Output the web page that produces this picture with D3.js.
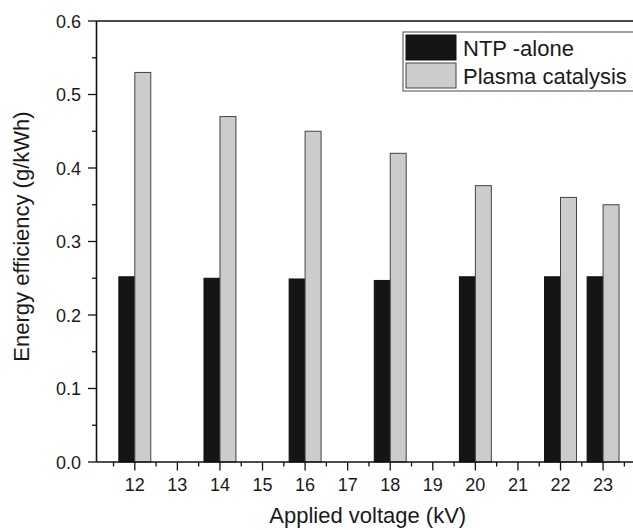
<!DOCTYPE html>
<html>
<head>
<meta charset="utf-8">
<script src="https://cdn.jsdelivr.net/npm/d3@7"></script>
<style>
  body { margin: 0; background: #fff; }
  text { font-family: "Liberation Sans", Arial, sans-serif; fill: #1a1a1a; }
</style>
</head>
<body>
<div id="chart"></div>
<script>
var voltages = [12, 14, 16, 18, 20, 22, 23];
var ntpAlone = [0.252, 0.250, 0.249, 0.247, 0.252, 0.252, 0.252];
var plasmaCatalysis = [0.530, 0.470, 0.450, 0.420, 0.376, 0.360, 0.350];
var seriesNames = ['NTP -alone', 'Plasma catalysis'];
var xTickValues = [12, 13, 14, 15, 16, 17, 18, 19, 20, 21, 22, 23];
var yTickValues = [0, 0.1, 0.2, 0.3, 0.4, 0.5, 0.6];

var W = 633, H = 530;
var margin = {top: 21, right: 0, bottom: 68, left: 96.5};
var barW = 0.375; // kV

var svg = d3.select('#chart').append('svg')
    .attr('width', W)
    .attr('height', H);

var x = d3.scaleLinear()
    .domain([11.1, 23.8])
    .range([margin.left, margin.left + 12.7 * 42.57]);

var y = d3.scaleLinear()
    .domain([0, 0.6])
    .range([H - margin.bottom, margin.top]);

var colors = ['#151515', '#cccccc'];
var strokes = ['#111', '#444'];

// bars
var groups = [ntpAlone, plasmaCatalysis];
groups.forEach(function(vals, s){
    svg.append('g').selectAll('rect')
        .data(vals)
        .enter()
        .append('rect')
        .attr('x', function(d, i){ return x(voltages[i] + (s === 0 ? -barW : 0)); })
        .attr('width', function(){ return x(barW) - x(0); })
        .attr('y', function(d){ return y(d); })
        .attr('height', function(d){ return y(0) - y(d); })
        .attr('fill', colors[s])
        .attr('stroke', strokes[s])
        .attr('stroke-width', 1);
});

// top frame line
svg.append('line')
    .attr('x1', margin.left).attr('x2', W)
    .attr('y1', y(0.6)).attr('y2', y(0.6))
    .attr('stroke', '#111').attr('stroke-width', 1.6);

// x axis
var xAxis = svg.append('g')
    .attr('transform', 'translate(0,' + y(0) + ')');
xAxis.append('line')
    .attr('x1', margin.left).attr('x2', W)
    .attr('stroke', '#111').attr('stroke-width', 1.6);
xAxis.selectAll('.minor')
    .data(xTickValues.map(function(d){ return d - 0.5; }).concat([23.5]))
    .enter().append('line')
    .attr('x1', function(d){ return x(d); }).attr('x2', function(d){ return x(d); })
    .attr('y1', 0).attr('y2', 4.5)
    .attr('stroke', '#111').attr('stroke-width', 1.3);
xAxis.selectAll('.major')
    .data(xTickValues)
    .enter().append('line')
    .attr('x1', function(d){ return x(d); }).attr('x2', function(d){ return x(d); })
    .attr('y1', 0).attr('y2', 8.5)
    .attr('stroke', '#111').attr('stroke-width', 1.3);
xAxis.selectAll('text')
    .data(xTickValues)
    .enter().append('text')
    .attr('x', function(d){ return x(d); })
    .attr('y', 28.5)
    .attr('text-anchor', 'middle')
    .attr('font-size', 18)
    .text(function(d){ return d; });

// y axis
var yAxis = svg.append('g')
    .attr('transform', 'translate(' + margin.left + ',0)');
yAxis.append('line')
    .attr('y1', y(0)).attr('y2', y(0.6))
    .attr('stroke', '#111').attr('stroke-width', 1.6);
yAxis.selectAll('.minor')
    .data(yTickValues.slice(0, -1).map(function(d){ return d + 0.05; }))
    .enter().append('line')
    .attr('y1', function(d){ return y(d); }).attr('y2', function(d){ return y(d); })
    .attr('x1', 0).attr('x2', -4.5)
    .attr('stroke', '#111').attr('stroke-width', 1.3);
yAxis.selectAll('.major')
    .data(yTickValues)
    .enter().append('line')
    .attr('y1', function(d){ return y(d); }).attr('y2', function(d){ return y(d); })
    .attr('x1', 0).attr('x2', -8.5)
    .attr('stroke', '#111').attr('stroke-width', 1.3);
yAxis.selectAll('text')
    .data(yTickValues)
    .enter().append('text')
    .attr('x', -15.5)
    .attr('y', function(d){ return y(d) + 6.5; })
    .attr('text-anchor', 'end')
    .attr('font-size', 18)
    .text(d3.format('.1f'));

// axis titles
svg.append('text')
    .attr('x', (margin.left + W) / 2 + 3)
    .attr('y', 523)
    .attr('text-anchor', 'middle')
    .attr('font-size', 22)
    .text('Applied voltage (kV)');
svg.append('text')
    .attr('transform', 'translate(29,' + (y(0.3) - 5) + ') rotate(-90)')
    .attr('text-anchor', 'middle')
    .attr('font-size', 22)
    .text('Energy efficiency (g/kWh)');

// legend
var legend = svg.append('g').attr('transform', 'translate(403,32)');
legend.append('rect')
    .attr('width', 260).attr('height', 59)
    .attr('fill', '#fff').attr('stroke', '#666').attr('stroke-width', 1.2);
var items = legend.selectAll('.item')
    .data(seriesNames)
    .enter().append('g')
    .attr('transform', function(d, i){ return 'translate(3,' + (3 + i * 28) + ')'; });
items.append('rect')
    .attr('width', 50).attr('height', 25)
    .attr('fill', function(d, i){ return colors[i]; })
    .attr('stroke', function(d, i){ return strokes[i]; });
items.append('text')
    .attr('x', 57).attr('y', 21)
    .attr('font-size', 22)
    .text(function(d){ return d; });
</script>
</body>
</html>
